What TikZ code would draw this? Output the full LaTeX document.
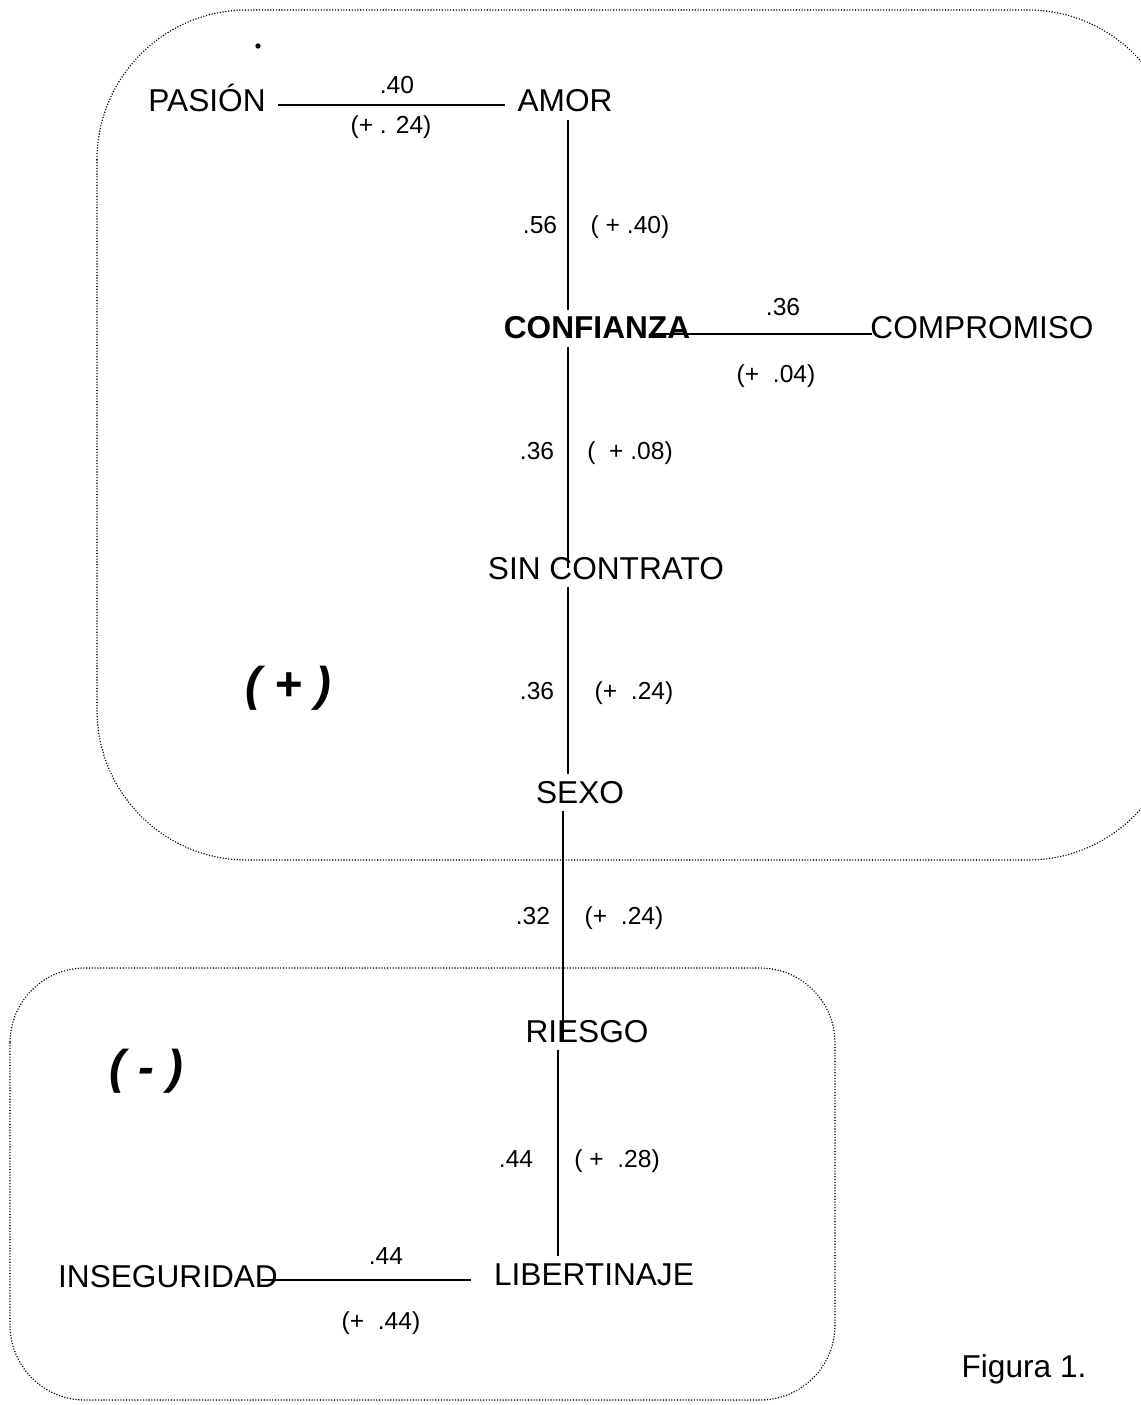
\documentclass[tikz,border=0pt]{standalone}
\usepackage{fontspec}
\setmainfont{Liberation Sans}
\usetikzlibrary{calc}

\tikzset{
  concept/.style={font=\fontsize{18}{20}\selectfont, inner sep=4pt, anchor=base},
  coef/.style={font=\fontsize{14}{16}\selectfont, inner sep=0pt, anchor=base},
  signo/.style={font=\fontsize{27}{30}\selectfont\bfseries\itshape, inner sep=0pt, anchor=base},
  zona/.style={line width=0.9pt, line cap=round, dash pattern=on 0pt off 1.6pt},
  enlace/.style={line width=1.1pt}
}

\begin{document}
\begin{tikzpicture}[x=0.02cm, y=-0.02cm]

    % 1. Page frame
    \useasboundingbox (0,0) rectangle (1141,1405);
    \clip (0,0) rectangle (1141,1405);

    % 2. Dotted zones
    \draw[zona, rounded corners=3cm] (97,10) rectangle (1178,860);
    \draw[zona, rounded corners=1.5cm] (10,968) rectangle (835,1400);

    % 3. Columns for the vertical chain
    \coordinate (colA) at (568,0);
    \coordinate (colB) at (563,0);
    \coordinate (colC) at (558,0);

    % 4. Concepts
    \node[concept] (pasion) at (207,112) {PASIÓN};
    \node[concept] (amor) at (565,112) {AMOR};
    \node[concept, font=\fontsize{18}{20}\selectfont\bfseries] (confianza) at (597,339) {CONFIANZA};
    \node[concept] (compromiso) at (982,339) {COMPROMISO};
    \node[concept] (sincontrato) at (606,579) {SIN CONTRATO};
    \node[concept] (sexo) at (580,803) {SEXO};
    \node[concept] (riesgo) at (587,1042) {RIESGO};
    \node[concept] (libertinaje) at (594,1285) {LIBERTINAJE};
    \node[concept] (inseguridad) at (168,1287) {INSEGURIDAD};

    % 5. Horizontal links
    \draw[enlace] ([shift={(3pt,1.5pt)}]pasion.mid east) -- ([shift={(-3pt,1.5pt)}]amor.mid west);
    \draw[enlace] ([xshift=-26pt]confianza.mid east) -- ([xshift=5pt]compromiso.mid west |- confianza.mid east);
    \draw[enlace] ([xshift=-14pt]inseguridad.mid east |- libertinaje.mid west) -- ([xshift=-9pt]libertinaje.mid west);

    % 6. Vertical links
    \draw[enlace] (amor.south -| colA) -- (confianza.north -| colA);
    \draw[enlace] (confianza.south -| colA) -- (sincontrato.center -| colA);
    \draw[enlace] (sincontrato.south -| colA) -- (sexo.north -| colA);
    \draw[enlace] (sexo.south -| colB) -- (riesgo.base -| colB);
    \draw[enlace] (riesgo.south -| colC) -- (libertinaje.north -| colC);

    % 7. Coefficients
    \node[coef] (c1) at (397,94) {.40};
    \node[coef] (c1b) at (391,134) {(+ . 24)};
    \node[coef] (c2) at (540,234) {.56};
    \node[coef] (c2b) at (630,234) {( + .40)};
    \node[coef] (c3) at (783,316) {.36};
    \node[coef] (c3b) at (776,382) {(+~~.04)};
    \node[coef] (c4) at (537,459) {.36};
    \node[coef] (c4b) at (630,459) {(~~+ .08)};
    \node[coef] (c5) at (537,699) {.36};
    \node[coef] (c5b) at (634,699) {(+~~.24)};
    \node[coef] (c6) at (533,924) {.32};
    \node[coef] (c6b) at (624,924) {(+~~.24)};
    \node[coef] (c7) at (516,1167) {.44};
    \node[coef] (c7b) at (617,1167) {( +~~.28)};
    \node[coef] (c8) at (386,1264) {.44};
    \node[coef] (c8b) at (381,1329) {(+~~.44)};

    % 8. Signs of the zones
    \node[signo] (mas) at (288,700) {( + )};
    \node[signo] (menos) at (146,1083) {( - )};

    % 9. Caption and stray mark
    \node[concept] (figura) at (1024,1377) {Figura 1.};
    \fill (258,46) circle (1.5pt);

\end{tikzpicture}
\end{document}
